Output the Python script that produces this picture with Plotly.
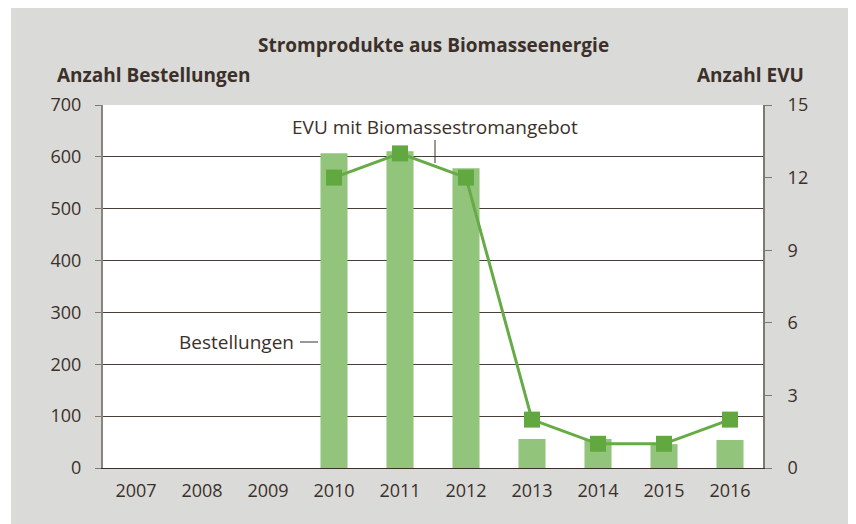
import plotly.graph_objects as go

years = ["2007", "2008", "2009", "2010", "2011", "2012", "2013", "2014", "2015", "2016"]
bestellungen = [None, None, None, 607, 611, 578, 56, 56, 46, 54]
evu = [None, None, None, 12, 13, 12, 2, 1, 1, 2]

left_ticks = [0, 100, 200, 300, 400, 500, 600, 700]
right_ticks = [0, 3, 6, 9, 12, 15]

TXT = "#3b302a"
FONT = "Open Sans"
BAR = "#92c47b"
LINE = "#66ab45"
MARK = "#62a840"
GREY = "#dadad8"

# page body has an 8px margin; work in screen pixels and shift
O = 8
SW, SH = 856, 524
W, H = SW - O, SH - O
L, R, T, B = 103 - O, SW - 763, 105 - O, SH - 468
pw, ph = W - L - R, H - T - B

def px(x):
    return (x - O - L) / pw

def py(y):
    return (H - B - (y - O)) / ph

fig = go.Figure()
fig.add_trace(go.Bar(x=years, y=bestellungen, marker=dict(color=BAR, line=dict(width=0)),
                     width=0.41, name="Bestellungen", yaxis="y"))
fig.add_trace(go.Scatter(x=years, y=evu, mode="lines+markers", yaxis="y2",
                         line=dict(color=LINE, width=3),
                         marker=dict(symbol="square", size=16, color=MARK),
                         name="EVU mit Biomassestromangebot"))

fig.add_shape(type="rect", xref="paper", yref="paper", x0=px(11), x1=px(SW + 5), y0=py(6), y1=py(SH + 5),
              fillcolor=GREY, line=dict(width=0), layer="below")
fig.add_shape(type="rect", xref="paper", yref="paper", x0=0, x1=1, y0=0, y1=1,
              fillcolor="white", line=dict(width=0), layer="below")
# leader lines
fig.add_shape(type="line", xref="paper", yref="paper", x0=px(435), x1=px(435), y0=py(140), y1=py(163),
              line=dict(color=TXT, width=1))
fig.add_shape(type="line", xref="paper", yref="paper", x0=px(300), x1=px(318), y0=py(342), y1=py(342),
              line=dict(color=TXT, width=1))

ann = [
    dict(text="<b>Stromprodukte aus Biomasseenergie</b>", x=px(433), y=py(45), xanchor="center", size=19),
    dict(text="<b>Anzahl Bestellungen</b>", x=px(55), y=py(75), xanchor="left", size=19),
    dict(text="<b>Anzahl EVU</b>", x=px(806), y=py(75), xanchor="right", size=19),
    dict(text="EVU mit Biomassestromangebot", x=px(435), y=py(127), xanchor="center", size=19),
    dict(text="Bestellungen", x=px(296), y=py(342), xanchor="right", size=19),
]
for a in ann:
    fig.add_annotation(text=a["text"], xref="paper", yref="paper", x=a["x"], y=a["y"],
                       xanchor=a["xanchor"], yanchor="middle", showarrow=False,
                       font=dict(family=FONT, size=a["size"], color=TXT))

fig.update_layout(
    width=W, height=H,
    margin=dict(l=L, r=R, t=T, b=B),
    paper_bgcolor="white", plot_bgcolor="rgba(0,0,0,0)",
    showlegend=False,
    font=dict(family=FONT, size=18, color=TXT),
    xaxis=dict(type="category", range=[-0.5, len(years) - 0.5], showgrid=False, ticks="", showline=True,
               linecolor=TXT, linewidth=1,
               tickfont=dict(size=18, color=TXT), ticklabelstandoff=6, fixedrange=True),
    yaxis=dict(range=[0, 700], tickvals=left_ticks, showgrid=True, gridcolor="#4a3f38", gridwidth=1,
               ticks="outside", ticklen=6, tickcolor="#7f7873", showline=True, linecolor="#8a837e", linewidth=2,
               tickfont=dict(size=18, color=TXT), ticklabelstandoff=10, zeroline=False),
    yaxis2=dict(range=[0, 15], tickvals=right_ticks, overlaying="y", side="right", showgrid=False,
                ticks="outside", ticklen=7, tickcolor="#7f7873", showline=True, linecolor="#7f7873", linewidth=2,
                tickfont=dict(size=18, color=TXT), ticklabelstandoff=12, zeroline=False),
)

fig.write_html("out.html")
